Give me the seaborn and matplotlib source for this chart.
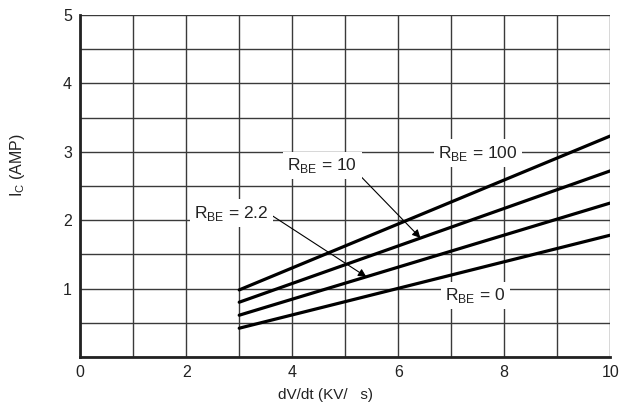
import numpy as np
import pandas as pd
import seaborn as sns
import matplotlib.pyplot as plt

# data (I_C vs dV/dt)
dvdt = [3, 10]
ic_rbe100 = [0.98, 3.23]
ic_rbe10 = [0.80, 2.72]
ic_rbe22 = [0.61, 2.25]
ic_rbe0 = [0.42, 1.78]
series_names = ["100", "10", "2.2", "0"]

df = pd.DataFrame({
    "x": dvdt * 4,
    "y": ic_rbe100 + ic_rbe10 + ic_rbe22 + ic_rbe0,
    "rbe": [n for n in series_names for _ in dvdt],
})

sns.set_style("white")
plt.rcParams['font.family'] = ['Liberation Sans', 'DejaVu Sans']

fig = plt.figure(figsize=(6.22, 4.16), dpi=100)
ax = fig.add_axes([0.129, 0.142, 0.852, 0.822])

sns.lineplot(data=df, x="x", y="y", hue="rbe", palette=["black"] * 4,
             linewidth=2.3, legend=False, ax=ax, zorder=3)

ax.set_xlim(0, 10)
ax.set_ylim(0, 5)
ax.set_xticks(np.arange(0, 11, 1), minor=True)
ax.set_xticks([0, 2, 4, 6, 8, 10])
ax.set_yticks(np.arange(0, 5.01, 0.5), minor=True)
ax.set_yticks([1, 2, 3, 4, 5])
ax.grid(True, which="both", color="#3a3a3a", linewidth=1.0)
ax.tick_params(which="both", length=0, labelsize=11.5, colors="#222222", pad=6)
for s in ["top", "right"]:
    ax.spines[s].set_visible(False)
for s in ["left", "bottom"]:
    ax.spines[s].set_linewidth(2.0)
    ax.spines[s].set_color("#222222")
    ax.spines[s].set_zorder(4)

ax.set_xlabel("dV/dt (KV/   s)", fontsize=11, color="#222222")
ax.set_ylabel(r"I$_\mathregular{C}$ (AMP)", fontsize=11.5, color="#222222")
ax.xaxis.set_label_coords(0.462, -0.09)
ax.yaxis.set_label_coords(-0.1, 0.56)

box = dict(boxstyle="square,pad=0.25", fc="white", ec="none")
lab = dict(fontsize=12.5, color="#222222", ha="center", va="center", bbox=box, zorder=5)
ax.text(7.5, 2.98, r"R$_\mathregular{BE}$ = 100", **lab)
ax.text(7.45, 0.9, r"R$_\mathregular{BE}$ = 0", **lab)
ax.annotate(r"R$_\mathregular{BE}$ = 10", xy=(6.42, 1.74), xytext=(4.57, 2.8),
            arrowprops=dict(arrowstyle="-|>", color="black", lw=0.8,
                            shrinkA=0, shrinkB=0, mutation_scale=12,
                            relpos=(0.95, 0.3)), **lab)
ax.annotate(r"R$_\mathregular{BE}$ = 2.2", xy=(5.4, 1.17), xytext=(2.85, 2.1),
            arrowprops=dict(arrowstyle="-|>", color="black", lw=0.8,
                            shrinkA=0, shrinkB=0, mutation_scale=12,
                            relpos=(1.0, 0.5)), **lab)

plt.savefig("out.png", dpi=100)
